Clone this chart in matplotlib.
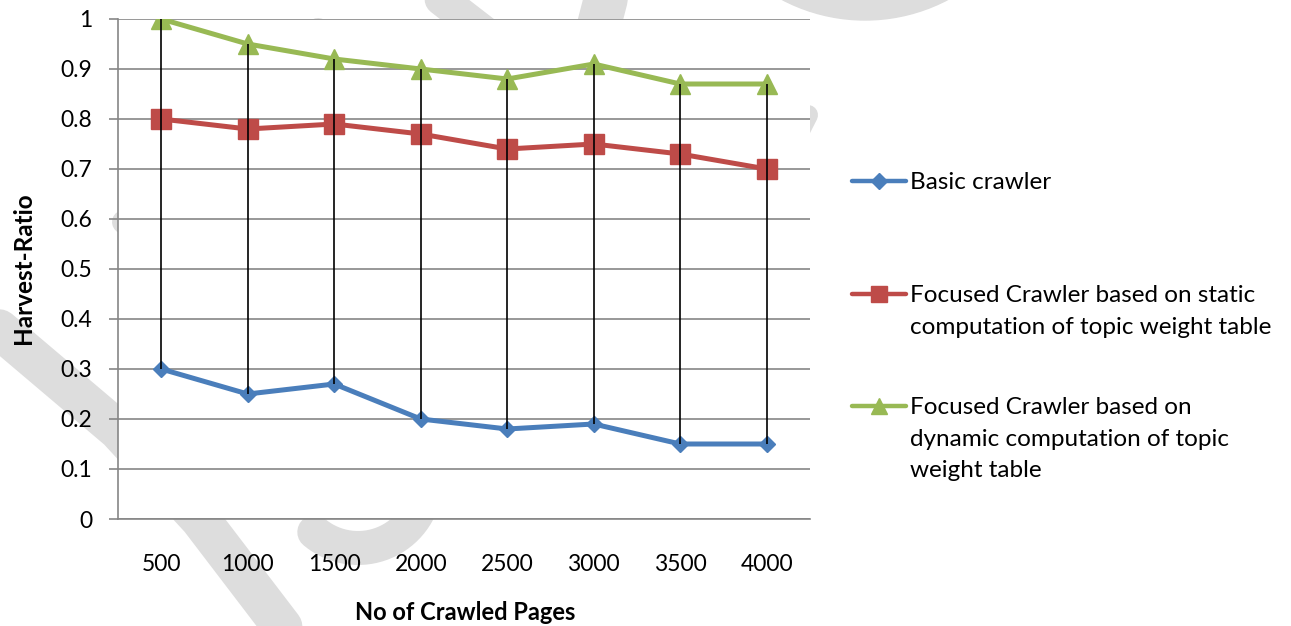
import matplotlib.pyplot as plt
from matplotlib.lines import Line2D
from matplotlib.patches import Circle
from matplotlib.transforms import Affine2D
import numpy as np

# Harvest ratio per number of crawled pages
pages = ["500", "1000", "1500", "2000", "2500", "3000", "3500", "4000"]
basic = [0.30, 0.25, 0.27, 0.20, 0.18, 0.19, 0.15, 0.15]
static = [0.80, 0.78, 0.79, 0.77, 0.74, 0.75, 0.73, 0.70]
dynamic = [1.00, 0.95, 0.92, 0.90, 0.88, 0.91, 0.87, 0.87]

labels = ["Basic crawler",
          "Focused Crawler based on static\ncomputation of topic weight table",
          "Focused Crawler based on\ndynamic computation of topic\nweight table"]

plt.rcParams['font.family'] = ['Lato', 'DejaVu Sans']

W, H, DPI = 1291, 626, 100
fig = plt.figure(figsize=(W / DPI, H / DPI), dpi=DPI)

# pixel coordinates measured from the top-left corner
pix = Affine2D().scale(1 / DPI, -1 / DPI).translate(0, H / DPI) + fig.dpi_scale_trans

# light grey background strokes
wm = '#dddddd'
def stroke(pts, width):
    pts = np.array(pts, dtype=float)
    fig.add_artist(Line2D(pts[:, 0], pts[:, 1], transform=pix, color=wm,
                          lw=width * 0.72, solid_capstyle='round',
                          solid_joinstyle='round', zorder=-1))

stroke([(-40, 300), (0, 330), (118, 430), (200, 519), (300, 650)], 40)
stroke([(124, 222), (200, 205)], 24)
stroke([(318, 30), (330, 60)], 24)
stroke([(410, -25), (520, 60)], 33)
stroke([(612, -25), (590, 60)], 44)
stroke([(808, 115), (780, 170)], 20)
th = np.radians(np.linspace(20, 130, 30))
stroke(np.column_stack([358 + 68 * np.cos(th), 480 + 68 * np.sin(th)]), 34)
fig.add_artist(Circle((865, -158), 178, transform=pix, color=wm, zorder=-1))

ax = fig.add_axes([118 / W, 1 - 519 / H, 692 / W, 500 / H])
ax.set_facecolor('white')

x = np.arange(len(pages))
ax.plot(x, basic, color='#4A7EBB', lw=3.6, marker='D', ms=8, zorder=3)
ax.plot(x, static, color='#BE4B48', lw=3.6, marker='s', ms=15, zorder=3)
ax.plot(x, dynamic, color='#98B954', lw=3.6, marker='^', ms=15, zorder=3)

# high-low lines
lows = np.minimum.reduce([basic, static, dynamic])
highs = np.maximum.reduce([basic, static, dynamic])
ax.vlines(x, lows, highs, color='black', lw=1.2, zorder=4)

ax.set_xlim(-0.5, len(pages) - 0.5)
ax.set_ylim(0, 1)
ax.set_xticks(x)
ax.set_xticklabels(pages)
yt = np.round(np.arange(0, 1.01, 0.1), 1)
ax.set_yticks(yt)
ax.set_yticklabels(['%g' % v for v in yt])
ax.grid(axis='y', color='#868686', lw=1.2)
ax.set_axisbelow(True)
for s in ['top', 'right']:
    ax.spines[s].set_visible(False)
for s in ['left', 'bottom']:
    ax.spines[s].set_color('#868686')
    ax.spines[s].set_linewidth(1.2)
ax.tick_params(axis='y', length=6.5, color='#868686', width=1.2, pad=12, labelsize=16.5)
ax.tick_params(axis='x', length=0, pad=25, labelsize=16.5)

fig.text(24 / W, 1 - 268 / H, "Harvest-Ratio", rotation=90, fontsize=17.5,
         fontweight='bold', ha='center', va='center')
fig.text(465 / W, 1 - 612 / H, "No of Crawled Pages", fontsize=17,
         fontweight='bold', ha='center', va='center')

# legend
colors = ['#4A7EBB', '#BE4B48', '#98B954']
markers = [('D', 8), ('s', 12), ('^', 12)]
rows = [181, 294, 406]
for lab, c, (m, ms), y in zip(labels, colors, markers, rows):
    fig.add_artist(Line2D([852, 906], [y, y], transform=pix, color=c, lw=3.2,
                          solid_capstyle='round'))
    fig.add_artist(Line2D([879], [y], transform=pix, color=c, marker=m, ms=ms))
    fig.text(910 / W, 1 - (y - 9) / H, lab, fontsize=17.5, ha='left',
             va='top', linespacing=1.63)

fig.savefig('out.png', dpi=DPI)
